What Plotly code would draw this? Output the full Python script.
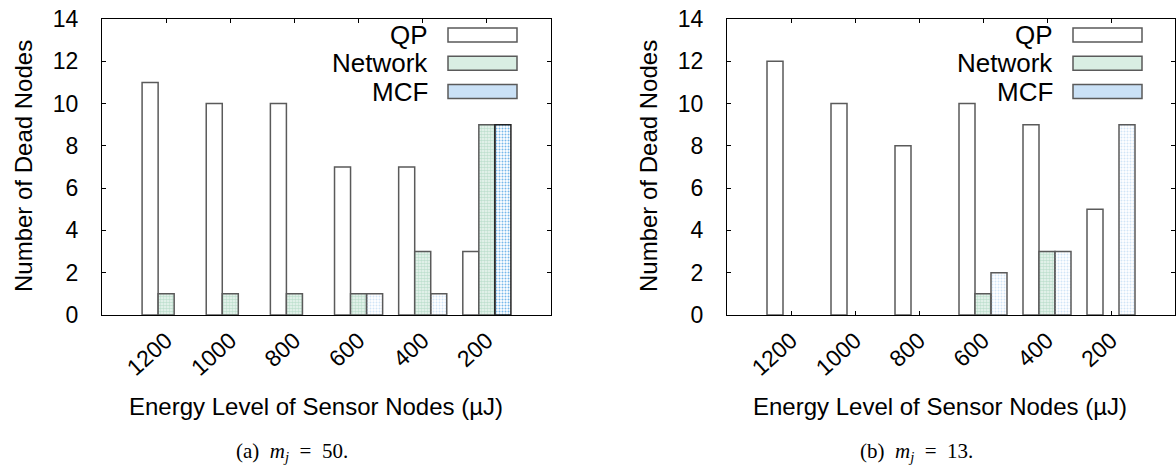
import plotly.graph_objects as go

# ---------------- data ----------------
categories = ["1200", "1000", "800", "600", "400", "200"]

qp_a = [11, 10, 10, 7, 7, 3]
network_a = [1, 1, 1, 1, 3, 9]
mcf_a = [0, 0, 0, 1, 1, 9]

qp_b = [12, 10, 8, 10, 9, 5]
network_b = [0, 0, 0, 1, 3, 0]
mcf_b = [0, 0, 0, 2, 3, 9]

series_names = ["QP", "Network", "MCF"]
y_ticks = [0, 2, 4, 6, 8, 10, 12, 14]
y_title = "Number of Dead Nodes"
x_title = "Energy Level of Sensor Nodes (\u00b5J)"
captions = [
    "(a)&nbsp;&nbsp;<i>m</i><sub><i>j</i></sub>&nbsp;&nbsp;=&nbsp;&nbsp;50.",
    "(b)&nbsp;&nbsp;<i>m</i><sub><i>j</i></sub>&nbsp;&nbsp;=&nbsp;&nbsp;13.",
]
highlight_a = "200"  # darker MCF bar in panel (a)

# ---------------- style ----------------
W, H = 1176, 468
FONT = "Liberation Sans, Arial, sans-serif"
EDGE = "#5a5a5a"
NET_FG, NET_BG = "#bfe0cf", "#f0f8f4"
MCF_FG, MCF_BG = "#bcd8f2", "#d2e5f7"
MCFD_FG, MCFD_BG = "#a9d3f3", "#76b8ea"

# plot areas in pixels (left, right, top, bottom)
panels = [(102, 551, 19, 315), (727, 1175, 19, 315)]


def px_x(p):
    return p / W


def px_y(p):
    return 1 - p / H


def widths(vals):
    return [0 if v == 0 else 1.5 for v in vals]


fig = go.Figure()

panel_data = [(qp_a, network_a, mcf_a), (qp_b, network_b, mcf_b)]
for i, (qp, net, mcf) in enumerate(panel_data):
    xa = "x" if i == 0 else "x2"
    ya = "y" if i == 0 else "y2"
    fig.add_trace(go.Bar(
        x=categories, y=qp, name=series_names[0], xaxis=xa, yaxis=ya,
        marker=dict(color="white", line=dict(color=EDGE, width=widths(qp))),
        showlegend=False))
    fig.add_trace(go.Bar(
        x=categories, y=net, name=series_names[1], xaxis=xa, yaxis=ya,
        marker=dict(color=NET_BG, line=dict(color=EDGE, width=widths(net)),
                    pattern=dict(shape=".", size=3, solidity=0.6,
                                 fgcolor=NET_FG, bgcolor=NET_BG, fillmode="replace")),
        showlegend=False))
    if i == 0:
        fg = [MCFD_FG if c == highlight_a else MCF_FG for c in categories]
        bg = [MCFD_BG if c == highlight_a else MCF_BG for c in categories]
        edges = ["#222222" if c == highlight_a else EDGE for c in categories]
    else:
        fg = [MCF_FG] * len(categories)
        bg = [MCF_BG] * len(categories)
        edges = [EDGE] * len(categories)
    fig.add_trace(go.Bar(
        x=categories, y=mcf, name=series_names[2], xaxis=xa, yaxis=ya,
        marker=dict(color=bg, line=dict(color=edges, width=widths(mcf)),
                    pattern=dict(shape=".", size=3, solidity=0.35,
                                 fgcolor=fg, bgcolor=bg, fillmode="replace")),
        showlegend=False))

axis_common = dict(
    showline=True, linecolor="black", linewidth=1, mirror="allticks",
    ticks="inside", ticklen=4, tickcolor="black", tickwidth=1,
    showgrid=False, zeroline=False, layer="below traces", automargin=False,
    tickfont=dict(family=FONT, size=23, color="black"),
)

layout = dict(
    width=W, height=H, margin=dict(l=0, r=0, t=0, b=0, autoexpand=False),
    paper_bgcolor="white", plot_bgcolor="white",
    barmode="group", bargap=0.25, bargroupgap=0,
    showlegend=False,
)
for i, (l, r, t, b) in enumerate(panels):
    sfx = "" if i == 0 else "2"
    layout["xaxis" + sfx] = dict(
        axis_common, domain=[px_x(l), px_x(r)], anchor="y" + sfx,
        type="category", range=[-1, 6], tickangle=-42, ticklabelstandoff=2,
    )
    layout["yaxis" + sfx] = dict(
        axis_common, domain=[px_y(b), px_y(t)], anchor="x" + sfx,
        range=[0, 14], tickvals=y_ticks, ticklabelstandoff=18,
    )
fig.update_layout(**layout)

annotations = []
shapes = []
legend_styles = [("white", EDGE), ("#d9eee3", EDGE), ("#cae1f6", EDGE)]
for i, (l, r, t, b) in enumerate(panels):
    # axis titles
    annotations.append(dict(
        xref="paper", yref="paper", x=px_x(l - 79), y=px_y(166), text=y_title, textangle=-90,
        showarrow=False, xanchor="center", yanchor="middle",
        font=dict(family=FONT, size=24, color="black")))
    annotations.append(dict(
        xref="paper", yref="paper", x=px_x((l + r) / 2 - 11), y=px_y(406), text=x_title,
        showarrow=False, xanchor="center", yanchor="middle",
        font=dict(family=FONT, size=24, color="black")))
    annotations.append(dict(
        xref="paper", yref="paper", x=px_x([292, 916][i]), y=px_y(452), text=captions[i],
        showarrow=False, xanchor="center", yanchor="middle",
        font=dict(family="Liberation Serif, Times New Roman, serif", size=21, color="black")))
    # legend
    for k, name in enumerate(series_names):
        yc = 35 + k * 28.3
        annotations.append(dict(
            xref="paper", yref="paper", x=px_x(l + 328), y=px_y(yc), text=name,
            showarrow=False, xanchor="right", yanchor="middle",
            font=dict(family=FONT, size=26, color="black")))
        fill, edge = legend_styles[k]
        shapes.append(dict(
            type="rect", xref="paper", yref="paper",
            x0=px_x(l + 346), x1=px_x(l + 415), y0=px_y(yc - 7), y1=px_y(yc + 7),
            fillcolor=fill, line=dict(color=edge, width=1.5)))

fig.update_layout(annotations=annotations, shapes=shapes)
fig.write_html(
    "out.html",
    config={"displayModeBar": False},
    post_script="document.body.style.margin='0';document.body.style.overflow='hidden';",
)
